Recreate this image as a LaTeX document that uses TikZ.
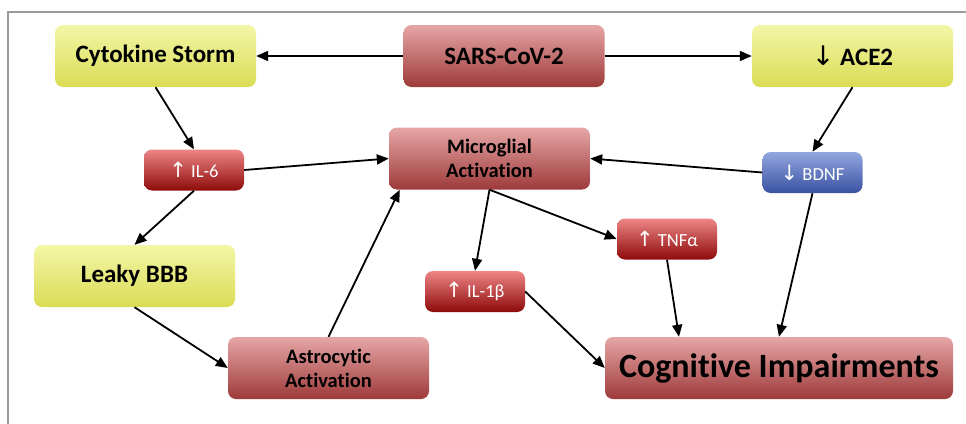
\documentclass[tikz,border=0pt]{standalone}
\usepackage{fontspec}
\setmainfont{Carlito}[Ligatures={NoCommon,NoContextual},RawFeature={-liga;-clig;-calt}]
\newfontfamily\arrfont{DejaVu Sans}
\usetikzlibrary{arrows.meta,calc}
\definecolor{yTop}{HTML}{F3F6A6}
\definecolor{yMid}{HTML}{D3D42C}
\definecolor{yBot}{HTML}{DADC55}
\definecolor{rTop}{HTML}{E6A6A6}
\definecolor{rMid}{HTML}{D04C4C}
\definecolor{rBot}{HTML}{9E3A3A}
\definecolor{sTop}{HTML}{EE8585}
\definecolor{sMid}{HTML}{D92828}
\definecolor{sBot}{HTML}{8E0A0A}
\definecolor{bTop}{HTML}{93A6DF}
\definecolor{bMid}{HTML}{5C76C9}
\definecolor{bBot}{HTML}{3A52A2}
\definecolor{frameGray}{HTML}{9A9A9A}
\tikzset{
  base/.style={rounded corners=8pt, inner sep=0pt, align=center},
  ybox/.style={base, top color=yTop, middle color=yMid, bottom color=yBot,
    minimum width=201pt, minimum height=62pt, font=\fontsize{25}{28}\selectfont\bfseries},
  rbox/.style={base, top color=rTop, middle color=rMid, bottom color=rBot,
    minimum width=201pt, minimum height=62pt, font=\fontsize{25}{28}\selectfont\bfseries},
  mbox/.style={base, top color=rTop, middle color=rMid, bottom color=rBot,
    minimum width=201pt, minimum height=62pt, font=\fontsize{20.5}{24}\selectfont\bfseries},
  sbox/.style={base, top color=sTop, middle color=sMid, bottom color=sBot,
    minimum width=100pt, minimum height=41pt, text=white, font=\fontsize{18.5}{22}\selectfont},
  bbox/.style={base, top color=bTop, middle color=bMid, bottom color=bBot,
    minimum width=100pt, minimum height=41pt, text=white, font=\fontsize{18.5}{22}\selectfont},
  conn/.style={-{Triangle[length=12pt,width=10pt]}, line width=1.8pt, black},
}
\newcommand{\uparr}{{\arrfont\fontsize{21}{22}\selectfont ↑}}
\newcommand{\dnarr}{{\arrfont\fontsize{21}{22}\selectfont ↓}}
\begin{document}
\begin{tikzpicture}[x=1pt,y=-1pt]
\useasboundingbox (0,0) rectangle (966,423);
\begin{scope}
\clip (0,0) rectangle (966,423);
\draw[frameGray, line width=2pt] (8,12) rectangle (990,440);
\end{scope}

\node[ybox] (cyto) at (155.5,56) {Cytokine Storm};
\node[rbox] (sars) at (504,56) {SARS-CoV-2};
\node[ybox] (ace) at (852.5,56) {{\arrfont\mdseries\fontsize{27}{28}\selectfont ↓} ACE2};
\node[sbox] (il6) at (194,170) {\uparr\ IL-6};
\node[mbox] (micro) at (489.5,158.5) {Microglial\\Activation};
\node[bbox] (bdnf) at (812.5,172.5) {\dnarr\ BDNF};
\node[ybox] (leaky) at (134.5,276) {Leaky BBB};
\node[mbox] (astro) at (328.5,368) {Astrocytic\\Activation};
\node[sbox] (il1b) at (475,291.5) {\uparr\ IL-1β};
\node[sbox] (tnf) at (667,239) {\uparr\ TNFα};
\node[rbox, minimum width=348pt, font=\fontsize{34}{38}\selectfont\bfseries] (cog) at (779,368) {Cognitive Impairments};

\draw[conn] (sars.west) -- (cyto.east);
\draw[conn] (sars.east) -- (ace.west);
\draw[conn] (cyto.south) -- (il6.north);
\draw[conn] (il6.east) -- (micro.west);
\draw[conn] (il6.south) -- (leaky.north);
\draw[conn] (leaky.south) -- (astro.west);
\draw[conn] (astro.north) -- ([xshift=11pt]micro.south west);
\draw[conn] (ace.south) -- (bdnf.north);
\draw[conn] (bdnf.west) -- (micro.east);
\draw[conn] (micro.south) -- (il1b.north);
\draw[conn] (micro.south) -- (tnf.west);
\draw[conn] (tnf.south) -- ([xshift=-100pt]cog.north);
\draw[conn] (bdnf.south) -- (cog.north);
\draw[conn] (il1b.east) -- (cog.west);
\end{tikzpicture}
\end{document}
